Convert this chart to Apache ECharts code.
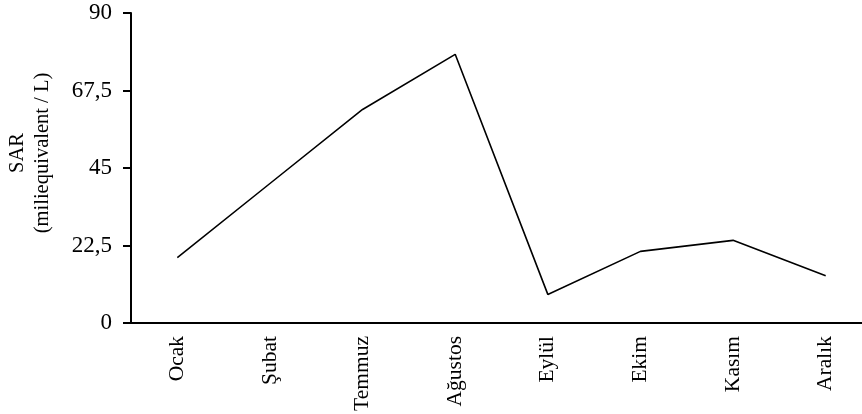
<!DOCTYPE html>
<html>
<head>
<meta charset="utf-8">
<script src="https://cdn.jsdelivr.net/npm/echarts@6/dist/echarts.min.js"></script>
<style>html,body{margin:0;padding:0;background:#fff}#c{width:862px;height:414px}</style>
</head>
<body>
<div id="c"></div>
<script>
var months = ['Ocak', 'Şubat', 'Temmuz', 'Ağustos', 'Eylül', 'Ekim', 'Kasım', 'Aralık'];
var sarValues = [19.0, 40.5, 62.0, 78.0, 8.3, 20.8, 24.0, 13.7];
var yTitle = 'SAR\n(miliequivalent / L)';
var FONT = '"Liberation Serif", "Times New Roman", serif';

var chart = echarts.init(document.getElementById('c'));
chart.setOption({
  animation: false,
  backgroundColor: '#fff',
  grid: { left: 131, top: 13, height: 310, width: 741, containLabel: false, outerBoundsMode: 'none' },
  xAxis: {
    type: 'category',
    data: months,
    boundaryGap: true,
    axisLine: { lineStyle: { color: '#000', width: 2 } },
    axisTick: { alignWithLabel: true, length: 7, lineStyle: { color: '#000', width: 2 } },
    axisLabel: { rotate: 90, margin: 13, color: '#000', fontFamily: FONT, fontSize: 21.5, interval: 0 }
  },
  yAxis: {
    type: 'value',
    min: 0, max: 90, interval: 22.5,
    splitLine: { show: false },
    axisLine: { show: true, lineStyle: { color: '#000', width: 2 } },
    axisTick: { show: true, length: 8, lineStyle: { color: '#000', width: 2 } },
    axisLabel: {
      margin: 19, color: '#000', fontFamily: FONT, fontSize: 23,
      formatter: function (v) { return String(v).replace('.', ','); }
    }
  },
  graphic: [{
    type: 'text',
    x: 30, y: 153,
    rotation: Math.PI / 2,
    style: {
      text: yTitle, fill: '#000', font: '20.5px ' + FONT,
      align: 'center', verticalAlign: 'middle', lineHeight: 25
    }
  }],
  series: [{
    type: 'line',
    data: sarValues,
    symbol: 'none',
    lineStyle: { color: '#000', width: 1.6 }
  }]
});
</script>
</body>
</html>
